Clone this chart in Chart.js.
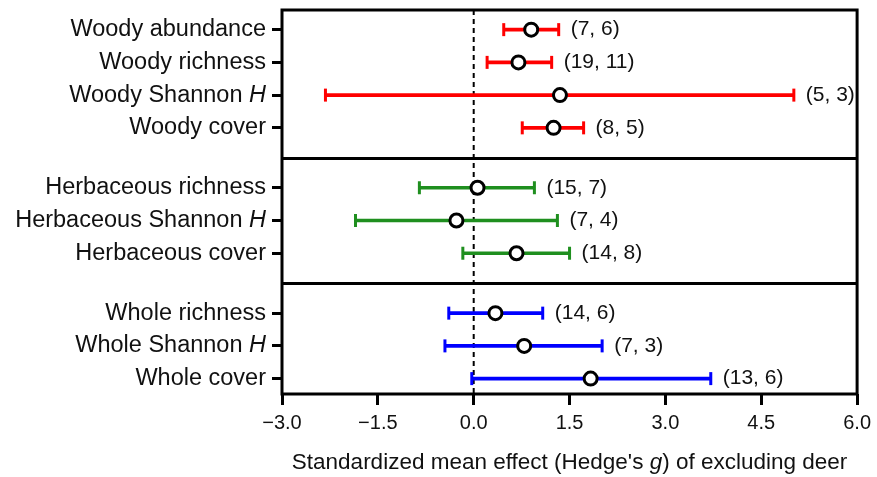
<!DOCTYPE html>
<html>
<head>
<meta charset="utf-8">
<script src="https://cdn.jsdelivr.net/npm/chart.js@4"></script>
<style>
  html, body { margin: 0; padding: 0; background: #fff; }
  #chart { display: block; }
</style>
</head>
<body>
<canvas id="chart" width="877" height="477"></canvas>
<script>
const categories = ['Woody abundance', 'Woody richness', 'Woody Shannon H', 'Woody cover',
  'Herbaceous richness', 'Herbaceous Shannon H', 'Herbaceous cover',
  'Whole richness', 'Whole Shannon H', 'Whole cover']
const groupOf = [0, 0, 0, 0, 1, 1, 1, 2, 2, 2]
const means = [0.90, 0.70, 1.35, 1.25, 0.06, -0.27, 0.67, 0.34, 0.79, 1.83]
const lower = [0.47, 0.21, -2.32, 0.76, -0.85, -1.85, -0.17, -0.39, -0.45, -0.03]
const upper = [1.33, 1.22, 5.01, 1.72, 0.95, 1.31, 1.50, 1.08, 2.01, 3.71]
const counts = ['(7, 6)', '(19, 11)', '(5, 3)', '(8, 5)', '(15, 7)', '(7, 4)', '(14, 8)',
  '(14, 6)', '(7, 3)', '(13, 6)']
const xTickValues = [-3, -1.5, 0, 1.5, 3, 4.5, 6]
const xTickLabels = ['\u22123.0', '\u22121.5', '0.0', '1.5', '3.0', '4.5', '6.0']
const groupColors = ['#ff0000', '#1f8f1f', '#0000ff']

const FONT = '"Liberation Sans", Arial, sans-serif'
const GROUP_GAP = 0.83
// row position on the y scale: one unit per row, extra gap between groups
const rowPos = categories.map((c, i) => i + groupOf[i] * GROUP_GAP)
const rowColor = groupOf.map(g => groupColors[g])

// separators halfway between last row of a group and first row of the next
const separators = []
for (let i = 1; i < rowPos.length; i++) {
  if (groupOf[i] !== groupOf[i - 1]) separators.push((rowPos[i] + rowPos[i - 1]) / 2)
}

const framePlugin = {
  id: 'frame',
  beforeDatasetsDraw(chart) {
    const { ctx, chartArea: a, scales: { x } } = chart
    ctx.save()
    ctx.strokeStyle = '#000'
    ctx.lineWidth = 2
    ctx.setLineDash([5, 4])
    const x0 = x.getPixelForValue(0)
    ctx.beginPath()
    ctx.moveTo(x0, a.top)
    ctx.lineTo(x0, a.bottom)
    ctx.stroke()
    ctx.restore()
  },
  afterDraw(chart) {
    const { ctx, chartArea: a, scales: { x, y } } = chart
    ctx.save()
    ctx.strokeStyle = '#000'
    ctx.lineWidth = 3
    ctx.strokeRect(a.left, a.top, a.right - a.left, a.bottom - a.top)
    separators.forEach(s => {
      const py = Math.round(y.getPixelForValue(s)) + 0.5
      ctx.beginPath()
      ctx.moveTo(a.left, py)
      ctx.lineTo(a.right, py)
      ctx.stroke()
    })

    // category labels, with italic H
    ctx.fillStyle = '#111'
    ctx.textBaseline = 'middle'
    const LBL = '23.5px '
    categories.forEach((c, i) => {
      const py = y.getPixelForValue(rowPos[i])
      const right = a.left - 16
      ctx.textAlign = 'right'
      if (c.endsWith(' H')) {
        ctx.font = 'italic ' + LBL + FONT
        const hw = ctx.measureText('H').width
        ctx.fillText('H', right, py)
        ctx.font = LBL + FONT
        ctx.fillText(c.slice(0, -1), right - hw, py)
      } else {
        ctx.font = LBL + FONT
        ctx.fillText(c, right, py)
      }
    })

    // sample sizes next to the upper whisker
    ctx.font = '21px ' + FONT
    ctx.textAlign = 'left'
    counts.forEach((t, i) => {
      ctx.fillText(t, x.getPixelForValue(upper[i]) + 12, y.getPixelForValue(rowPos[i]))
    })

    // x axis title with italic g
    const TTL = '22.5px '
    const parts = [['Standardized mean effect (Hedge\'s ', ''], ['g', 'italic '], [') of excluding deer', '']]
    let total = 0
    parts.forEach(p => { ctx.font = p[1] + TTL + FONT; total += ctx.measureText(p[0]).width })
    let px = (a.left + a.right) / 2 - total / 2
    parts.forEach(p => {
      ctx.font = p[1] + TTL + FONT
      ctx.fillText(p[0], px, 463)
      px += ctx.measureText(p[0]).width
    })
    ctx.restore()
  }
}

new Chart(document.getElementById('chart').getContext('2d'), {
  type: 'bar',
  data: {
    datasets: [
      {
        type: 'scatter',
        label: 'Mean',
        order: 0,
        data: means.map((m, i) => ({ x: m, y: rowPos[i] })),
        pointStyle: 'circle',
        pointRadius: 6.5,
        pointBorderWidth: 3,
        pointBackgroundColor: '#fff',
        pointBorderColor: '#000'
      },
      {
        type: 'scatter',
        label: 'Caps',
        order: 1,
        data: lower.map((l, i) => ({ x: l, y: rowPos[i] }))
          .concat(upper.map((u, i) => ({ x: u, y: rowPos[i] }))),
        pointStyle: 'line',
        rotation: 90,
        pointRadius: 6.5,
        pointBorderWidth: 3,
        pointBorderColor: rowColor.concat(rowColor)
      },
      {
        type: 'bar',
        label: 'CI',
        order: 2,
        data: lower.map((l, i) => ({ x: [l, upper[i]], y: rowPos[i] })),
        backgroundColor: rowColor,
        borderWidth: 0,
        barThickness: 3,
        grouped: false
      }
    ]
  },
  options: {
    indexAxis: 'y',
    responsive: false,
    animation: false,
    devicePixelRatio: 1,
    layout: { padding: { top: 10, right: 19, left: 0, bottom: 0 } },
    plugins: { legend: { display: false }, tooltip: { enabled: false } },
    scales: {
      x: {
        type: 'linear',
        min: -3,
        max: 6,
        afterFit: s => { s.height = 83 },
        afterBuildTicks: s => { s.ticks = xTickValues.map(v => ({ value: v })) },
        border: { display: false },
        grid: { drawOnChartArea: false, drawTicks: true, tickLength: 11, tickWidth: 3, tickColor: '#000' },
        ticks: {
          color: '#111',
          padding: 6,
          font: { family: FONT, size: 20 },
          maxRotation: 0,
          callback: (v, i) => xTickLabels[i]
        }
      },
      y: {
        type: 'linear',
        reverse: true,
        offset: false,
        min: -0.6,
        max: 11.13,
        afterFit: s => { s.width = 282 },
        afterBuildTicks: s => { s.ticks = rowPos.map(v => ({ value: v })) },
        border: { display: false },
        grid: { offset: false, drawOnChartArea: false, drawTicks: true, tickLength: 10, tickWidth: 3, tickColor: '#000' },
        ticks: { display: false }
      }
    }
  },
  plugins: [framePlugin]
})
</script>
</body>
</html>
